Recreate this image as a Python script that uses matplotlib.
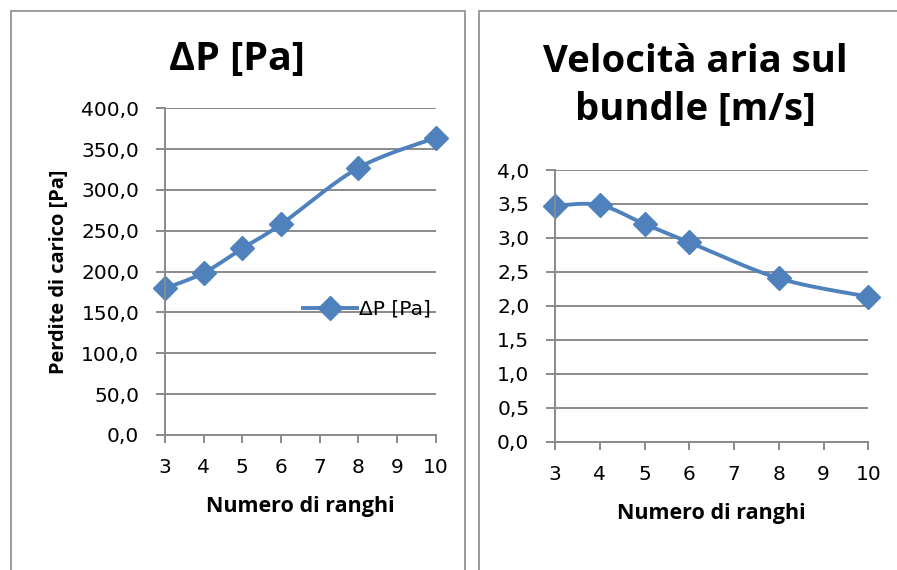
import matplotlib
matplotlib.use("Agg")
import matplotlib.pyplot as plt
import numpy as np
from matplotlib.patches import Rectangle
from matplotlib.ticker import FuncFormatter

# data
ranghi = [3, 4, 5, 6, 8, 10]
delta_p = [179.5, 198.5, 228.5, 258.0, 327.0, 364.0]
velocita = [3.475, 3.485, 3.205, 2.935, 2.405, 2.135]

blue = "#4F81BD"
grey = "#8A8A8A"
plt.rcParams["font.family"] = ["Open Sans", "DejaVu Sans"]
tick_font = ["DejaVu Sans"]


def smooth(x, y, n=30):
    # Catmull-Rom curve through the points, like Excel's smoothed line
    x = np.asarray(x, float)
    y = np.asarray(y, float)
    px = np.concatenate([[x[0]], x, [x[-1]]])
    py = np.concatenate([[y[0]], y, [y[-1]]])
    xs, ys = [], []
    t = np.linspace(0, 1, n)
    for i in range(1, len(px) - 2):
        for p, out in ((px, xs), (py, ys)):
            p0, p1, p2, p3 = p[i - 1], p[i], p[i + 1], p[i + 2]
            c = 0.5 * (2 * p1 + (-p0 + p2) * t
                       + (2 * p0 - 5 * p1 + 4 * p2 - p3) * t ** 2
                       + (-p0 + 3 * p1 - 3 * p2 + p3) * t ** 3)
            out.extend(c)
    return xs, ys


def style(ax, ymax, ystep):
    ax.set_xlim(3, 10)
    ax.set_ylim(0, ymax)
    ax.set_xticks(range(3, 11))
    ax.set_yticks(np.arange(0, ymax + ystep / 2, ystep))
    ax.yaxis.set_major_formatter(FuncFormatter(lambda v, p: f"{v:.1f}".replace(".", ",")))
    ax.grid(axis="y", color=grey, lw=1.4)
    ax.set_axisbelow(True)
    for s in ("top", "right"):
        ax.spines[s].set_visible(False)
    for s in ("left", "bottom"):
        ax.spines[s].set_color(grey)
        ax.spines[s].set_linewidth(1.4)
    ax.tick_params(axis="y", length=6.5, color=grey, width=1.4, pad=12)
    ax.tick_params(axis="x", length=6, color=grey, width=1.4, pad=10.5)
    for lab in ax.get_xticklabels() + ax.get_yticklabels():
        lab.set_family(tick_font)
        lab.set_fontsize(14.5)
    ax.set_xlabel("Numero di ranghi", fontsize=15.5, fontweight="bold", labelpad=14)


def draw(ax, x, y):
    sx, sy = smooth(x, y)
    ax.plot(sx, sy, color=blue, lw=2.8, solid_capstyle="round", clip_on=False)
    ax.plot(x, y, ls="none", marker="D", ms=12.5, color=blue, clip_on=False)


fig = plt.figure(figsize=(8.97, 5.70), dpi=100)

# panel frames
fig.patches.append(Rectangle((11 / 897, -0.05), 454 / 897, 1.05 - 11 / 570,
                             transform=fig.transFigure, fill=False, ec=grey, lw=1.2))
fig.patches.append(Rectangle((479 / 897, -0.05), 440 / 897, 1.05 - 11 / 570,
                             transform=fig.transFigure, fill=False, ec=grey, lw=1.2))

# left: pressure drop
ax1 = fig.add_axes([165 / 897, 1 - 435 / 570, 270.7 / 897, 326.7 / 570])
style(ax1, 400, 50)
draw(ax1, ranghi, delta_p)
ax1.plot([], [], color=blue, lw=2.8, marker="D", ms=12.5, label="ΔP [Pa]")
ax1.set_ylabel("Perdite di carico [Pa]", fontsize=14.4, fontweight="bold", labelpad=9)
ax1.legend(loc="center left", bbox_to_anchor=(0.48, 0.385), frameon=False,
           prop={"family": tick_font, "size": 14.5},
           handlelength=2.7, handletextpad=0.1, borderaxespad=0)
fig.text(237 / 897, 1 - 59 / 570, "ΔP [Pa]", ha="center", va="center",
         fontsize=28.5, fontweight="bold")

# right: air speed
ax2 = fig.add_axes([555 / 897, 1 - 441.7 / 570, 313.3 / 897, 271.7 / 570])
style(ax2, 4.0, 0.5)
draw(ax2, ranghi, velocita)
fig.text(695 / 897, 1 - 86 / 570, "Velocità aria sul\nbundle [m/s]", ha="center",
         va="center", fontsize=27.5, fontweight="bold", linespacing=1.37)

fig.savefig("out.png", dpi=100)
